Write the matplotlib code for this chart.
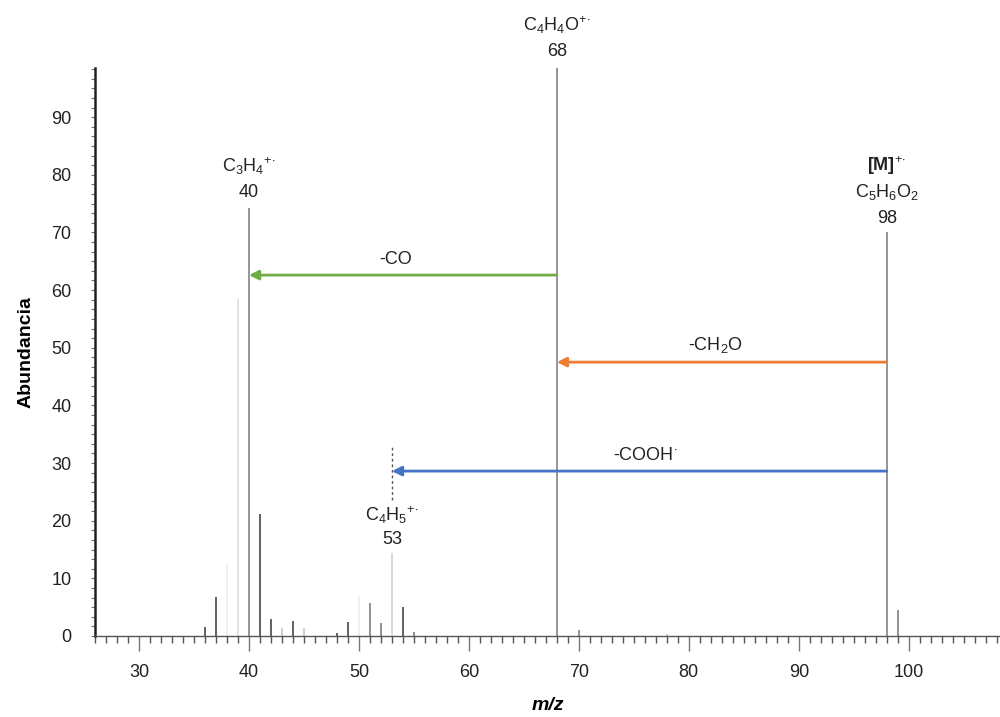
import matplotlib
matplotlib.use("Agg")
import matplotlib.pyplot as plt
from matplotlib.ticker import MultipleLocator

# datos del espectro (m/z, abundancia relativa)
mz = [36, 37, 38, 39, 40, 41, 42, 43, 44, 45, 48, 49, 50, 51, 52, 53, 54, 55,
      68, 70, 78, 98, 99]
abundance = [1.6, 6.8, 12.5, 58.5, 74.3, 21.1, 2.9, 1.4, 2.6, 1.4, 0.6, 2.4, 6.9, 5.7,
             2.3, 14.4, 5.0, 0.7, 100.0, 1.0, 0.3, 70.0, 4.5]
# tono de gris de cada pico
peak_colors = ["#555555", "#555555", "#eeeeee", "#e0e0e0", "#8c8c8c", "#555555",
               "#555555", "#cccccc", "#555555", "#cccccc", "#555555", "#555555",
               "#eeeeee", "#888888", "#888888", "#d6d6d6", "#555555", "#888888",
               "#8c8c8c", "#888888", "#cccccc", "#8c8c8c", "#888888"]

# perdidas neutras: (desde, hasta, altura, texto, color)
loss_from = [68, 98, 98]
loss_to = [40, 68, 53]
loss_y = [62.6, 47.5, 28.6]
loss_text = ["-CO", r"-CH$_2$O", r"-COOH$^{\cdot}$"]
loss_text_x = [53.3, 82.4, 76.0]
loss_colors = ["#70ad47", "#ed7d31", "#4472c4"]

x_ticks = [30, 40, 50, 60, 70, 80, 90, 100]
y_ticks = [0, 10, 20, 30, 40, 50, 60, 70, 80, 90]

plt.rcParams["font.family"] = ["Liberation Sans", "DejaVu Sans"]
plt.rcParams["mathtext.fontset"] = "custom"
plt.rcParams["mathtext.rm"] = "Liberation Sans"
plt.rcParams["mathtext.it"] = "Liberation Sans:italic"
plt.rcParams["mathtext.bf"] = "Liberation Sans:bold"

fig = plt.figure(figsize=(10, 7.17), dpi=100)
ax = fig.add_axes([0.095, 0.113, 0.905, 0.792])

ax.vlines(mz, 0, abundance, colors=peak_colors, linewidth=1.3)

for x0, x1, y, txt, tx, c in zip(loss_from, loss_to, loss_y, loss_text, loss_text_x, loss_colors):
    ax.annotate("", xy=(x1, y), xytext=(x0, y),
                arrowprops=dict(arrowstyle="-|>", color=c, lw=2, mutation_scale=14,
                                shrinkA=0, shrinkB=0))
    ax.text(tx, y + 1.2, txt, ha="center", va="bottom", fontsize=13, color="#222222")

# linea discontinua en m/z 53
ax.vlines(53, 23.6, 33.1, colors="#555555", linestyles=(0, (2, 2)), linewidth=1)

rad = r"$^{+\!\cdot}$"
tk = dict(ha="center", va="center", fontsize=13, color="#222222", clip_on=False)
ax.text(68, 106.0, r"C$_4$H$_4$O" + rad, **tk)
ax.text(68, 101.3, "68", **tk)
ax.text(40, 81.5, r"C$_3$H$_4$" + rad, **tk)
ax.text(40, 77.0, "40", **tk)
ax.text(98, 81.5, r"$\mathbf{[M]}$" + rad, **tk)
ax.text(98, 77.0, r"C$_5$H$_6$O$_2$", **tk)
ax.text(98, 72.5, "98", **tk)
ax.text(53, 21.0, r"C$_4$H$_5$" + rad, **tk)
ax.text(53, 16.8, "53", **tk)

ax.set_xlim(26, 108.3)
ax.set_ylim(0, 98.5)

ax.set_xticks(x_ticks)
ax.xaxis.set_minor_locator(MultipleLocator(1))
ax.set_yticks(y_ticks)
ax.yaxis.set_minor_locator(MultipleLocator(10 / 6))

ax.tick_params(axis="x", which="major", length=11, width=1, color="#777777",
               labelsize=13, pad=9, labelcolor="#222222")
ax.tick_params(axis="x", which="minor", length=5, width=1, color="#555555")
ax.tick_params(axis="y", which="major", length=3, width=0.8, color="#777777",
               labelsize=13, pad=14, labelcolor="#222222")
ax.tick_params(axis="y", which="minor", length=3, width=0.8, color="#777777")

for s in ["top", "right"]:
    ax.spines[s].set_visible(False)
ax.spines["left"].set_linewidth(1.8)
ax.spines["left"].set_color("#222222")
ax.spines["bottom"].set_linewidth(1)
ax.spines["bottom"].set_color("#555555")

ax.set_xlabel("m/z", fontsize=14, fontweight="bold", fontstyle="italic", labelpad=12)
ax.set_ylabel("Abundancia", fontsize=14, fontweight="bold", labelpad=12)

fig.savefig("out.png", dpi=100)
